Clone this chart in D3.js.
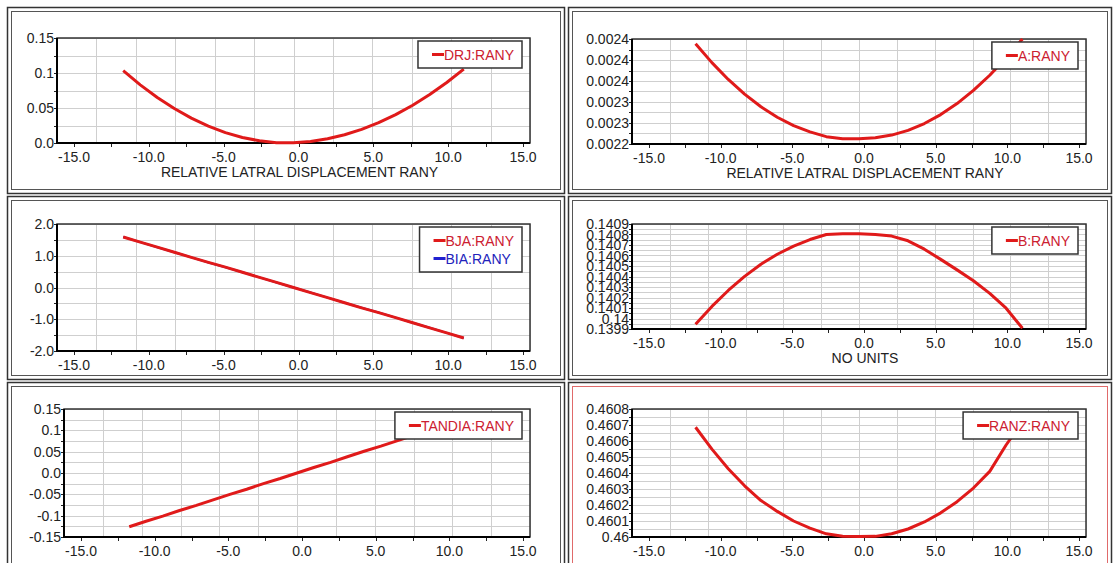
<!DOCTYPE html>
<html>
<head>
<meta charset="utf-8">
<script src="https://cdn.jsdelivr.net/npm/d3@7"></script>
<style>
  body { margin: 0; background: #fff; }
  svg { display: block; font-family: "Liberation Sans", Arial, sans-serif; }
</style>
</head>
<body>
<div id="chart"></div>
<script>
// Shared x values (relative lateral displacement)
const xValues = [-10.8, -9.72, -8.64, -7.56, -6.48, -5.4, -4.32, -3.24, -2.16, -1.08, 0,
                 1.08, 2.16, 3.24, 4.32, 5.4, 6.48, 7.56, 8.64, 9.72, 10.8];

// Series values
const drjValues = [0.1033, 0.0831, 0.065, 0.0492, 0.0356, 0.0241, 0.0149, 0.0079, 0.0031, 0.0005, 0.0003,
                   0.0022, 0.0061, 0.0118, 0.0195, 0.0291, 0.0406, 0.0539, 0.0692, 0.0864, 0.1055];
const aValues = [0.002431, 0.002395, 0.002363, 0.002335, 0.002311, 0.002291, 0.002275, 0.002263, 0.002254, 0.002250, 0.002250,
                 0.002252, 0.002257, 0.002266, 0.002279, 0.002296, 0.002317, 0.002342, 0.002371, 0.002404, 0.002440];
const bjaValues = [1.59, 1.43, 1.27, 1.11, 0.95, 0.79, 0.64, 0.48, 0.32, 0.16, 0.0,
                   -0.16, -0.32, -0.48, -0.64, -0.79, -0.95, -1.11, -1.27, -1.43, -1.59];
const biaValues = [1.59, 1.43, 1.27, 1.11, 0.95, 0.79, 0.64, 0.48, 0.32, 0.16, 0.0,
                   -0.16, -0.32, -0.48, -0.64, -0.79, -0.95, -1.11, -1.27, -1.43, -1.59];
const bValues = [0.139945, 0.140115, 0.140267, 0.140401, 0.140517, 0.140612, 0.140690, 0.140752, 0.140800, 0.140806, 0.140806,
                 0.140800, 0.140785, 0.140740, 0.140660, 0.140563, 0.140463, 0.140359, 0.140239, 0.140098, 0.139907];
const tandiaValues = [-0.126, -0.113, -0.101, -0.088, -0.076, -0.063, -0.050, -0.038, -0.025, -0.013, 0.0,
                      0.013, 0.025, 0.038, 0.051, 0.063, 0.076, 0.089, 0.101, 0.114, 0.127];
const ranzValues = [0.460686, 0.460549, 0.460427, 0.460320, 0.460228, 0.460160, 0.460100, 0.460055, 0.460020, 0.460005, 0.460003,
                    0.460004, 0.460020, 0.460050, 0.460094, 0.460151, 0.460221, 0.460306, 0.460410, 0.460575, 0.460720];

// Tick values and labels
const xTicks = [-15, -10, -5, 0, 5, 10, 15];
const xTickLabels = ["-15.0", "-10.0", "-5.0", "0.0", "5.0", "10.0", "15.0"];

const drjTicks = [0, 0.05, 0.1, 0.15];
const drjTickLabels = ["0.0", "0.05", "0.1", "0.15"];
const aTicks = [0.00224, 0.00228, 0.00232, 0.00236, 0.0024, 0.00244];
const aTickLabels = ["0.0022", "0.0023", "0.0023", "0.0024", "0.0024", "0.0024"];
const bjaTicks = [-2, -1, 0, 1, 2];
const bjaTickLabels = ["-2.0", "-1.0", "0.0", "1.0", "2.0"];
const bTicks = [0.1399, 0.14, 0.1401, 0.1402, 0.1403, 0.1404, 0.1405, 0.1406, 0.1407, 0.1408, 0.1409];
const bTickLabels = ["0.1399", "0.14", "0.1401", "0.1402", "0.1403", "0.1404", "0.1405", "0.1406", "0.1407", "0.1408", "0.1409"];
const tandiaTicks = [-0.15, -0.1, -0.05, 0, 0.05, 0.1, 0.15];
const tandiaTickLabels = ["-0.15", "-0.1", "-0.05", "0.0", "0.05", "0.1", "0.15"];
const ranzTicks = [0.46, 0.4601, 0.4602, 0.4603, 0.4604, 0.4605, 0.4606, 0.4607, 0.4608];
const ranzTickLabels = ["0.46", "0.4601", "0.4602", "0.4603", "0.4604", "0.4605", "0.4606", "0.4607", "0.4608"];

const lineRed = "#e01a1a";
const textRed = "#cc2030";
const textBlue = "#2222bb";
const lineBlue = "#2020d0";
const xTitle = "RELATIVE LATRAL DISPLACEMENT RANY";
const fontSize = 14;

const panels = [
  { frame: [7, 7, 564, 193], plot: [57, 38, 530, 143], ticks: drjTicks, labels: drjTickLabels, ySteps: 6, title: xTitle,
    series: [{ name: "DRJ:RANY", values: drjValues, color: lineRed, text: textRed }] },
  { frame: [568, 7, 1111, 193], plot: [632, 39, 1086, 144], ticks: aTicks, labels: aTickLabels, ySteps: 10, title: xTitle,
    series: [{ name: "A:RANY", values: aValues, color: lineRed, text: textRed }] },
  { frame: [7, 196, 564, 379], plot: [57, 224, 530, 351], ticks: bjaTicks, labels: bjaTickLabels, ySteps: 8, title: null,
    series: [{ name: "BJA:RANY", values: bjaValues, color: lineRed, text: textRed },
             { name: "BIA:RANY", values: biaValues, color: lineBlue, text: textBlue }] },
  { frame: [568, 196, 1111, 379], plot: [632, 224, 1086, 329], ticks: bTicks, labels: bTickLabels, ySteps: 20, title: "NO UNITS",
    series: [{ name: "B:RANY", values: bValues, color: lineRed, text: textRed }] },
  { frame: [7, 382, 564, 580], plot: [64, 409, 530, 537], ticks: tandiaTicks, labels: tandiaTickLabels, ySteps: 12, title: null,
    series: [{ name: "TANDIA:RANY", values: tandiaValues, color: lineRed, text: textRed }] },
  { frame: [568, 382, 1111, 580], plot: [632, 409, 1086, 537], ticks: ranzTicks, labels: ranzTickLabels, ySteps: 16, title: null,
    selected: true,
    series: [{ name: "RANZ:RANY", values: ranzValues, color: lineRed, text: textRed }] }
];

const svg = d3.select("#chart")
  .append("svg")
  .attr("width", 1114)
  .attr("height", 563);

svg.append("rect").attr("width", 1114).attr("height", 563).attr("fill", "#fff");

panels.forEach(p => {
  const [fx0, fy0, fx1, fy1] = p.frame;
  const [px0, py0, px1, py1] = p.plot;
  const g = svg.append("g");

  // double frame round the panel
  g.append("rect")
    .attr("x", fx0 + 0.5).attr("y", fy0 + 0.5)
    .attr("width", fx1 - fx0).attr("height", fy1 - fy0)
    .attr("fill", "none").attr("stroke", "#333").attr("stroke-width", 1.5);
  g.append("rect")
    .attr("x", fx0 + 4.5).attr("y", fy0 + 4.5)
    .attr("width", fx1 - fx0 - 8).attr("height", fy1 - fy0 - 8)
    .attr("fill", "none").attr("stroke", p.selected ? "#e06a6a" : "#555").attr("stroke-width", 1);

  const yMin = p.ticks[0], yMax = p.ticks[p.ticks.length - 1];
  const x = d3.scaleLinear().domain([-15, 15]).range([px0, px1]);
  const y = d3.scaleLinear().domain([yMin, yMax]).range([py1, py0]);
  // the tick labels sit a bit inside the grid, as in the original chart
  const xLab = d3.scaleLinear().domain([-15, 15]).range([px0 + 17, px1 - 7]);

  // grid
  const xGrid = d3.range(13).map(i => -15 + i * 2.5);
  const yGrid = d3.range(p.ySteps + 1).map(i => yMin + (yMax - yMin) * i / p.ySteps);
  g.selectAll(".vg").data(xGrid).join("line")
    .attr("x1", d => Math.round(x(d)) + 0.5).attr("x2", d => Math.round(x(d)) + 0.5)
    .attr("y1", py0).attr("y2", py1)
    .attr("stroke", "#cfcfcf").attr("stroke-width", 1);
  g.selectAll(".hg").data(yGrid).join("line")
    .attr("x1", px0).attr("x2", px1)
    .attr("y1", d => Math.round(y(d)) + 0.5).attr("y2", d => Math.round(y(d)) + 0.5)
    .attr("stroke", "#cfcfcf").attr("stroke-width", 1);

  // small ticks
  g.selectAll(".yt").data(yGrid).join("line")
    .attr("x1", px0 - 3).attr("x2", px0)
    .attr("y1", d => Math.round(y(d)) + 0.5).attr("y2", d => Math.round(y(d)) + 0.5)
    .attr("stroke", "#222");
  g.selectAll(".xt").data(xGrid).join("line")
    .attr("x1", d => Math.round(xLab(d)) + 0.5).attr("x2", d => Math.round(xLab(d)) + 0.5)
    .attr("y1", py1).attr("y2", py1 + 4)
    .attr("stroke", "#222");

  // plot border
  g.append("rect")
    .attr("x", px0).attr("y", py0)
    .attr("width", px1 - px0).attr("height", py1 - py0)
    .attr("fill", "none").attr("stroke", "#333").attr("stroke-width", 1.5);
  g.append("line").attr("x1", px0).attr("x2", px0).attr("y1", py0).attr("y2", py1 + 1)
    .attr("stroke", "#000").attr("stroke-width", 2);
  g.append("line").attr("x1", px0 - 1).attr("x2", px1).attr("y1", py1).attr("y2", py1)
    .attr("stroke", "#000").attr("stroke-width", 2);

  // y labels
  g.selectAll(".yl").data(p.ticks).join("text")
    .attr("x", px0 - 3)
    .attr("y", d => y(d))
    .attr("dy", "0.36em")
    .attr("text-anchor", "end")
    .attr("font-size", fontSize)
    .attr("fill", "#222")
    .text((d, i) => p.labels[i]);

  // x labels
  g.selectAll(".xl").data(xTicks).join("text")
    .attr("x", d => xLab(d))
    .attr("y", py1 + 14)
    .attr("dy", "0.36em")
    .attr("text-anchor", "middle")
    .attr("font-size", fontSize)
    .attr("fill", "#222")
    .text((d, i) => xTickLabels[i]);

  if (p.title) {
    g.append("text")
      .attr("x", (px0 + px1) / 2 + 6)
      .attr("y", py1 + 29)
      .attr("dy", "0.36em")
      .attr("text-anchor", "middle")
      .attr("font-size", fontSize)
      .attr("fill", "#222")
      .text(p.title);
  }

  // curves (first series drawn on top, the hidden one a bit thinner)
  const line = d3.line()
    .x((d, i) => x(xValues[i]))
    .y(d => y(d));
  g.selectAll(".curve").data(p.series.map((s, i) => ({ ...s, order: i })).reverse()).join("path")
    .attr("d", s => line(s.values))
    .attr("fill", "none")
    .attr("stroke", s => s.color)
    .attr("stroke-width", s => s.order === 0 ? 3 : 2)
    .attr("stroke-linejoin", "round");

  // legend
  const lg = g.append("g");
  const box = lg.append("rect");
  const items = lg.selectAll(".li").data(p.series).join("g");
  const texts = items.append("text")
    .attr("font-size", fontSize)
    .attr("fill", s => s.text)
    .attr("dy", "0.36em")
    .text(s => s.name);
  let maxW = 0;
  texts.each(function () { maxW = Math.max(maxW, this.getComputedTextLength()); });
  const boxW = 26 + maxW + 8;
  const boxH = 9 + p.series.length * 18;
  const bx = px1 - 8 - boxW, by = py0 + 3;
  box.attr("x", bx).attr("y", by).attr("width", boxW).attr("height", boxH)
    .attr("fill", "#fff").attr("stroke", "#333").attr("stroke-width", 1.5);
  items.attr("transform", (s, i) => `translate(${bx}, ${by + 13.5 + i * 18})`);
  texts.attr("x", 26);
  items.append("line")
    .attr("x1", 14).attr("x2", 26).attr("y1", 0).attr("y2", 0)
    .attr("stroke", s => s.color).attr("stroke-width", 3);
});
</script>
</body>
</html>
